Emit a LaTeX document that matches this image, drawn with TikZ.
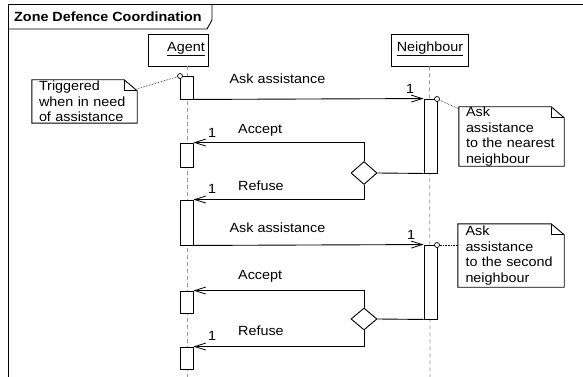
\documentclass[tikz,border=0pt]{standalone}
\usepackage{fontspec}
\setmainfont{Liberation Sans}[FakeStretch=1.08]
\usetikzlibrary{arrows.meta,shapes.geometric,calc}

\tikzset{
  base/.style={font=\fontsize{13.3}{15.4}\selectfont},
  lbl/.style={base, inner sep=0pt},
  obj/.style={draw, fill=white, line width=0.9pt, inner sep=0pt, minimum height=32pt},
  life/.style={draw=gray!80, line width=0.7pt, dash pattern=on 4pt off 3pt},
  act/.style={draw, fill=white, line width=0.9pt, inner sep=0pt, minimum width=13pt},
  msg/.style={draw, line width=0.9pt, -{Straight Barb[length=11pt,width=7pt,line width=0.8pt]}},
  wire/.style={draw, line width=0.9pt},
  choice/.style={diamond, draw, fill=white, line width=0.9pt, inner sep=0pt, minimum width=26pt, minimum height=23pt},
  anchorpt/.style={circle, draw, fill=white, line width=0.7pt, inner sep=0pt, minimum size=5pt},
  note/.style={base, inner xsep=7pt, inner ysep=0pt, text width=91pt, align=left, minimum height=43pt},
  noteline/.style={draw, line width=0.9pt},
  fold/.style={draw, line width=1.3pt},
  tie/.style={draw, line width=0.6pt, densely dotted}
}

\begin{document}
\begin{tikzpicture}[x=1pt, y=-1pt]
\useasboundingbox (0,0) rectangle (583,377);
\clip (0,0) rectangle (583,377);

% diagram frame and title tab
\draw[line width=0.9pt] (8,390) -- (8,4) -- (600,4);
\draw[line width=0.9pt] (8,29) -- (207,29) -- (212,20) -- (212,4);
\node[lbl, font=\fontsize{13.3}{15.4}\selectfont\bfseries, anchor=west] (title) at (14,17) {Zone Defence Coordination};

% lifeline heads
\node[obj, minimum width=60pt] (agent) at (178,50) {};
\node[lbl] (agentname) at (186,49) {\underline{Agent}};
\node[obj, minimum width=77pt] (neigh) at (429.5,50) {};
\node[lbl] (neighname) at (430,49) {\underline{Neighbour}};

% lifelines
\coordinate (aend) at (187,385);
\coordinate (nend) at (430,385);
\draw[life] (agent.south -| aend) -- (aend);
\draw[life] (neigh.south) -- (nend);

% activations on the agent
\node[act, minimum height=23pt] (a1) at (186.5,87.5) {};
\node[act, minimum height=24pt] (a2) at (186.5,155) {};
\node[act, minimum height=45pt] (a3) at (186.5,222.5) {};
\node[act, minimum height=22pt] (a4) at (186.5,302) {};
\node[act, minimum height=22pt] (a5) at (186.5,358) {};

% activations on the neighbour
\node[act, minimum height=74pt] (n1) at (430.5,136) {};
\node[act, minimum height=74pt] (n2) at (430.5,282) {};

% decisions
\node[choice] (d1) at (364,173) {};
\node[choice, minimum height=22pt] (d2) at (364,319) {};

% first request and its replies
\draw[msg] (a1.south east) -- (n1.north west);
\draw[wire] (d1.east) -- (n1.south west);
\draw[msg] (d1.north) |- (a2.north east);
\draw[msg] (d1.south) |- (a3.north east);

% second request and its replies
\draw[msg] (a3.south east) -- (n2.north west);
\draw[wire] (d2.east) -- (n2.south west);
\draw[msg] (d2.north) |- (a4.north east);
\draw[msg] (d2.south) |- (a5.north east);

% message labels
\node[lbl] (m1) at (277.5,79) {Ask assistance};
\node[lbl] (m1n) at (410,89) {1};
\node[lbl, anchor=west] (m2) at (238,130) {Accept};
\node[lbl] (m2n) at (212,133) {1};
\node[lbl, anchor=west] (m3) at (238,186) {Refuse};
\node[lbl] (m3n) at (212,189) {1};
\node[lbl] (m4) at (277.5,228) {Ask assistance};
\node[lbl] (m4n) at (411,235) {1};
\node[lbl, anchor=west] (m5) at (238,276) {Accept};
\node[lbl, anchor=west] (m6) at (238,331) {Refuse};
\node[lbl] (m6n) at (212,336) {1};

% notes
\node[note, minimum width=105pt] (note1) at (84.5,101.5) {Triggered\\when in need\\of assistance};
\node[note, minimum width=105pt, minimum height=59pt] (note2) at (511.5,136.5) {Ask\\assistance\\to the nearest\\neighbour};
\node[note, minimum width=106pt, minimum height=63pt] (note3) at (511,255.5) {Ask\\assistance\\to the second\\neighbour};

\foreach \n in {note1,note2,note3}{
  \draw[noteline] (\n.north west) -- ($(\n.north east)+(-13,0)$) -- ($(\n.north east)+(0,11)$)
        -- (\n.south east) -- (\n.south west) -- cycle;
  \draw[fold] ($(\n.north east)+(-13,0)$) -- ($(\n.north east)+(-13,11)$) -- ($(\n.north east)+(0,11)$);
}

% attachment points and dotted ties
\node[anchorpt] (c1) at (180,76) {};
\node[anchorpt] (c2) at (437,99) {};
\node[anchorpt] (c3) at (437,245) {};
\draw[tie] (c1) -- ($(note1.north east)+(0,9)$);
\draw[tie] (c2) -- ($(note2.north west)+(0,2)$);
\draw[tie] (c3) -- (c3 -| note3.west);
\end{tikzpicture}
\end{document}
